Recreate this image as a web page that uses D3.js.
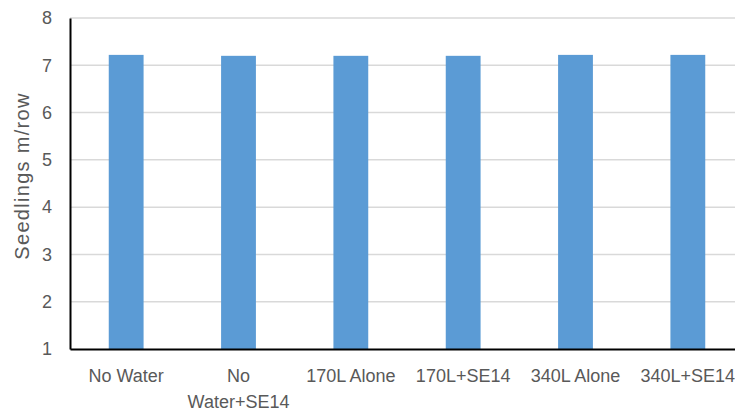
<!DOCTYPE html>
<html>
<head>
<meta charset="utf-8">
<script src="https://cdn.jsdelivr.net/npm/d3@7"></script>
<style>
  html, body { margin: 0; padding: 0; background: #fff; }
  svg text { font-family: "Liberation Sans", Arial, sans-serif; fill: #595959; }
</style>
</head>
<body>
<svg id="chart" width="735" height="412"></svg>
<script>
// Seedling counts per treatment
const categories = ["No Water", "No Water+SE14", "170L Alone", "170L+SE14", "340L Alone", "340L+SE14"];
const seedlings = [7.22, 7.2, 7.2, 7.2, 7.22, 7.22];
const yTicks = [1, 2, 3, 4, 5, 6, 7, 8];
const yTitle = "Seedlings m/row";

const svg = d3.select("#chart");
const plotLeft = 70, plotRight = 744, plotTop = 18, plotBottom = 349;

const x = d3.scaleBand()
  .domain(categories)
  .range([plotLeft, plotRight])
  .paddingInner(0.69)
  .paddingOuter(0.345);

const y = d3.scaleLinear().domain([1, 8]).range([plotBottom, plotTop]);

// horizontal gridlines
svg.append("g")
  .selectAll("line")
  .data(yTicks.filter(t => t > 1))
  .join("line")
  .attr("x1", plotLeft).attr("x2", plotRight)
  .attr("y1", d => y(d)).attr("y2", d => y(d))
  .attr("stroke", "#d9d9d9")
  .attr("stroke-width", 1.5);

// bars
svg.append("g")
  .selectAll("rect")
  .data(seedlings)
  .join("rect")
  .attr("x", (d, i) => x(categories[i]))
  .attr("width", x.bandwidth())
  .attr("y", d => y(d))
  .attr("height", d => y(1) - y(d))
  .attr("fill", "#5b9bd5");

// y axis
const yAxis = svg.append("g")
  .attr("transform", `translate(${plotLeft},0)`)
  .call(d3.axisLeft(y).tickValues(yTicks).tickSize(0).tickPadding(18).tickFormat(d3.format("d")));
yAxis.select(".domain").attr("stroke", "#000").attr("stroke-width", 2);
yAxis.selectAll("text").attr("font-size", 18).attr("fill", "#595959");

// x axis
const xAxis = svg.append("g")
  .attr("transform", `translate(0,${plotBottom})`)
  .call(d3.axisBottom(x).tickSize(0).tickPadding(20));
xAxis.select(".domain").attr("stroke", "#000").attr("stroke-width", 2);
xAxis.selectAll("text")
  .attr("font-size", 18)
  .attr("fill", "#595959")
  .each(function() {
    // wrap labels that are wider than one category step
    const t = d3.select(this);
    const words = t.text().split(/\s+/);
    if (this.getComputedTextLength() <= x.step() - 4 || words.length < 2) return;
    t.text(null);
    const lines = [words[0], words.slice(1).join(" ")];
    lines.forEach((ln, k) => {
      t.append("tspan").attr("x", 0).attr("dy", k === 0 ? "0.71em" : "1.45em").text(ln);
    });
  });

// y axis title
svg.append("text")
  .attr("transform", "translate(29,176) rotate(-90)")
  .attr("text-anchor", "middle")
  .attr("font-size", 20)
  .attr("letter-spacing", 1.3)
  .text(yTitle);
</script>
</body>
</html>
